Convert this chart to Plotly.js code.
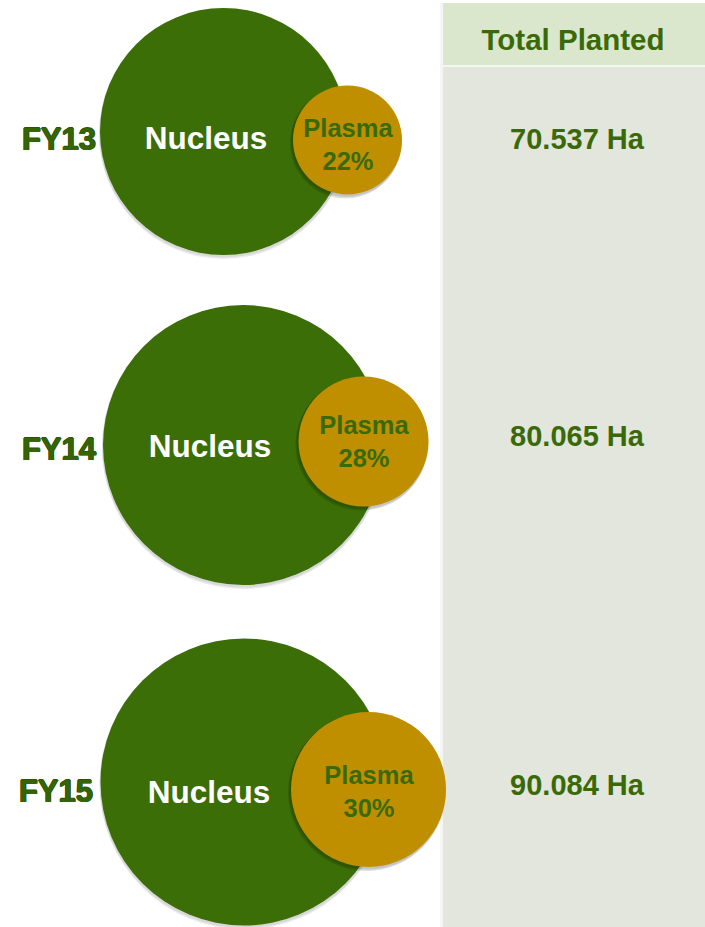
<!DOCTYPE html>
<html>
<head>
<meta charset="utf-8">
<script src="https://cdn.plot.ly/plotly-3.0.1.min.js"></script>
<style>html,body{margin:0;padding:0;background:#fff;}#chart{width:705px;height:927px;}</style>
</head>
<body>
<div id="chart"></div>
<script>
// ---------- DATA ----------
const years = ['FY13', 'FY14', 'FY15'];
const plasmaPct = [22, 28, 30];
const totalPlanted = [70.537, 80.065, 90.084];
const nucleusLabel = 'Nucleus';
const plasmaLabel = 'Plasma';
const headerLabel = 'Total Planted';
const unitLabel = 'Ha';

// ---------- LAYOUT / STYLE (pixel-unit axes) ----------
const W = 705, H = 927;
const rowLayout = {
  nucCx: [223.5, 243, 244], nucCy: [131.5, 445, 782], nucD: [247, 280, 287],
  plaCx: [347.5, 363.5, 368.5], plaCy: [140, 441.5, 789.5], plaD: [109, 130, 155],
  fyX: [59, 59, 56], fyY: [142, 452, 794],
  nucTx: [206, 210, 209], nucTy: [141.5, 449.5, 795.5],
  plaTy: [147, 444.5, 794],
  valX: 577, valY: [142, 439, 788],
  headerY: 43
};
const panel = {x0: 443, y0: 3, headerBottom: 65};
const C = {
  green: '#3b6e06', gold: '#bf8f00', darkText: '#3a6a08', fyText: '#356404',
  header: '#dbe7cc', body: '#e3e6dc'
};
const FONT = 'Liberation Sans, Arial, sans-serif';

const fmt = v => v.toFixed(3) + ' ' + unitLabel;

function shadow(cx, cy, d, dy, alpha) {
  return {
    type: 'scatter', mode: 'markers', hoverinfo: 'skip', showlegend: false,
    x: cx, y: cy.map(v => v + dy),
    marker: {size: d.map(v => v + 2), opacity: 1, color: 'rgba(0,0,0,' + alpha + ')', line: {width: 0}}
  };
}

const traces = [
  shadow(rowLayout.nucCx, rowLayout.nucCy, rowLayout.nucD, 3, 0.08),
  shadow(rowLayout.nucCx, rowLayout.nucCy, rowLayout.nucD, 1.5, 0.08),
  {
    type: 'scatter', mode: 'markers', hoverinfo: 'skip', showlegend: false,
    x: rowLayout.nucCx, y: rowLayout.nucCy,
    marker: {size: rowLayout.nucD, opacity: 1, color: C.green, line: {width: 0}}
  },
  shadow(rowLayout.plaCx.map(v => v - 2), rowLayout.plaCy, rowLayout.plaD, 3, 0.12),
  shadow(rowLayout.plaCx.map(v => v - 1), rowLayout.plaCy, rowLayout.plaD, 1.5, 0.12),
  {
    type: 'scatter', mode: 'markers', hoverinfo: 'skip', showlegend: false,
    x: rowLayout.plaCx, y: rowLayout.plaCy,
    marker: {size: rowLayout.plaD, opacity: 1, color: C.gold, line: {width: 0}}
  },
  {
    type: 'scatter', mode: 'text', hoverinfo: 'skip', showlegend: false,
    x: rowLayout.nucTx, y: rowLayout.nucTy,
    text: years.map(() => nucleusLabel), textposition: 'middle center',
    textfont: {family: FONT, size: 31.5, color: '#ffffff', weight: 700}
  },
  {
    type: 'scatter', mode: 'text', hoverinfo: 'skip', showlegend: false,
    x: rowLayout.plaCx.map(v => v + 0.5), y: rowLayout.plaTy,
    text: plasmaPct.map(p => plasmaLabel + '<br>' + p + '%'), textposition: 'middle center',
    textfont: {family: FONT, size: 25.5, color: C.darkText, weight: 700}
  },
  {
    type: 'scatter', mode: 'text', hoverinfo: 'skip', showlegend: false,
    x: rowLayout.fyX, y: rowLayout.fyY,
    text: years, textposition: 'middle center',
    textfont: {family: FONT, size: 31, color: C.fyText, weight: 700,
      shadow: '0.7px 0 0 #2c5404, -0.7px 0 0 #2c5404, 0 0.7px 0 #2c5404, 0 -0.7px 0 #2c5404'}
  },
  {
    type: 'scatter', mode: 'text', hoverinfo: 'skip', showlegend: false,
    x: years.map(() => rowLayout.valX), y: rowLayout.valY,
    text: totalPlanted.map(fmt), textposition: 'middle center',
    textfont: {family: FONT, size: 29, color: C.darkText, weight: 700}
  },
  {
    type: 'scatter', mode: 'text', hoverinfo: 'skip', showlegend: false,
    x: [(panel.x0 + W) / 2 - 1], y: [rowLayout.headerY],
    text: [headerLabel], textposition: 'middle center',
    textfont: {family: FONT, size: 29.5, color: C.darkText, weight: 700}
  }
];

const layout = {
  width: W, height: H,
  margin: {l: 0, r: 0, t: 0, b: 0, pad: 0},
  paper_bgcolor: '#ffffff', plot_bgcolor: '#ffffff',
  showlegend: false,
  xaxis: {range: [0, W], visible: false, fixedrange: true},
  yaxis: {range: [H, 0], visible: false, fixedrange: true},
  shapes: [
    {type: 'rect', xref: 'x', yref: 'y', x0: panel.x0 - 3, x1: W, y0: panel.y0, y1: H,
      fillcolor: 'rgba(0,0,0,0.04)', line: {width: 0}, layer: 'below'},
    {type: 'rect', xref: 'x', yref: 'y', x0: panel.x0, x1: W, y0: panel.y0, y1: H,
      fillcolor: C.body, line: {width: 0}, layer: 'below'},
    {type: 'rect', xref: 'x', yref: 'y', x0: panel.x0, x1: W, y0: panel.y0, y1: panel.headerBottom,
      fillcolor: C.header, line: {width: 0}, layer: 'below'},
    {type: 'rect', xref: 'x', yref: 'y', x0: panel.x0, x1: W, y0: panel.headerBottom, y1: panel.headerBottom + 2,
      fillcolor: '#f4f6f0', line: {width: 0}, layer: 'below'}
  ]
};

Plotly.newPlot('chart', traces, layout, {displayModeBar: false, staticPlot: true});
</script>
</body>
</html>
